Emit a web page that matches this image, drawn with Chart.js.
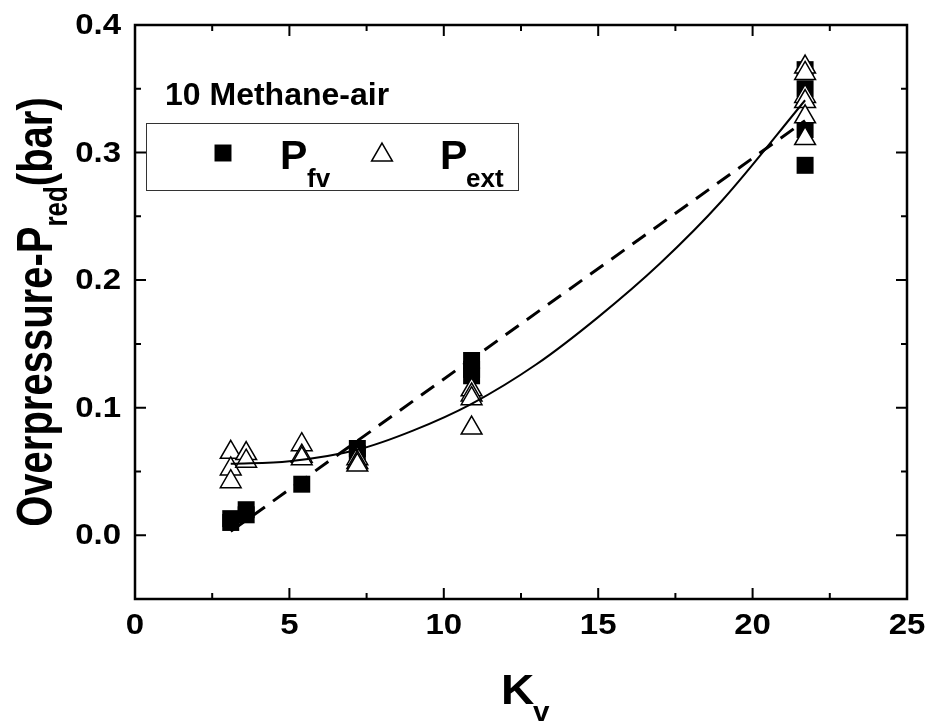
<!DOCTYPE html>
<html>
<head>
<meta charset="utf-8">
<script src="https://cdn.jsdelivr.net/npm/chart.js@4/dist/chart.umd.min.js"></script>
<style>
  html, body { margin: 0; padding: 0; background: #fff; }
  #wrap { width: 926px; height: 722px; }
</style>
</head>
<body>
<div id="wrap"><canvas id="c" width="926" height="722"></canvas></div>
<script>
// Vent coefficient K_v for each measured point
const fvKv  = [3.1, 3.1, 3.6, 3.6, 5.4, 7.2, 7.2, 10.9, 10.9, 10.9, 21.7, 21.7, 21.7, 21.7];
// Reduced overpressure from flame venting, P_fv (bar)
const fvP   = [0.013, 0.010, 0.020, 0.016, 0.040, 0.068, 0.064, 0.137, 0.130, 0.125, 0.365, 0.350, 0.318, 0.290];

const extKv = [3.1, 3.1, 3.1, 3.6, 3.6, 5.4, 5.4, 5.4, 7.2, 7.2, 7.2, 10.9, 10.9, 10.9, 10.9, 21.7, 21.7, 21.7, 21.7, 21.7, 21.7];
// External explosion overpressure, P_ext (bar)
const extP  = [0.065, 0.052, 0.042, 0.064, 0.058, 0.071, 0.062, 0.060, 0.060, 0.057, 0.055, 0.114, 0.110, 0.107, 0.084, 0.367, 0.362, 0.344, 0.340, 0.328, 0.311];

// Linear trend of P_fv (dashed)
const fvTrendKv = [3.1, 21.7];
const fvTrendP  = [0.003, 0.325];

// Curved trend of P_ext (solid)
const extTrendKv = [3.1, 5.0, 7.2, 9.0, 10.9, 13.0, 15.0, 17.0, 19.0, 21.7];
const extTrendP  = [0.056, 0.058, 0.067, 0.082, 0.103, 0.134, 0.171, 0.213, 0.262, 0.341];

// Axis tick labels
const xTicks = [0, 5, 10, 15, 20, 25];
const yTicks = [0.0, 0.1, 0.2, 0.3, 0.4];

const pts = (xs, ys) => xs.map((x, i) => ({ x: x, y: ys[i] }));

const FONT = '"Liberation Sans", Arial, Helvetica, sans-serif';

// Draw text widened horizontally by sx, anchored at (x, y)
function wideText(ctx, text, x, y, font, sx, align, baseline) {
  ctx.save();
  ctx.translate(x, y);
  ctx.scale(sx, 1);
  ctx.font = font;
  ctx.textAlign = align || 'left';
  ctx.textBaseline = baseline || 'alphabetic';
  ctx.fillText(text, 0, 0);
  ctx.restore();
}

// Box frame with inward major/minor ticks on all four sides
const framePlugin = {
  id: 'frame',
  beforeDatasetsDraw(chart) {
    const { ctx, chartArea: a, scales } = chart;
    const xs = scales.x, ys = scales.y;
    ctx.save();
    ctx.strokeStyle = '#000';
    ctx.lineWidth = 2.5;
    ctx.strokeRect(a.left, a.top, a.right - a.left, a.bottom - a.top);
    ctx.lineWidth = 2;
    const major = 11, minor = 6;
    ctx.beginPath();
    for (let k = 0; k <= 10; k++) {
      const px = xs.getPixelForValue(k * 2.5);
      const len = (k % 2 === 0) ? major : minor;
      ctx.moveTo(px, a.bottom); ctx.lineTo(px, a.bottom - len);
      ctx.moveTo(px, a.top);    ctx.lineTo(px, a.top + len);
    }
    for (let k = -1; k <= 8; k++) {
      const py = ys.getPixelForValue(k * 0.05);
      const len = (k % 2 === 0) ? major : minor;
      ctx.moveTo(a.left, py);  ctx.lineTo(a.left + len, py);
      ctx.moveTo(a.right, py); ctx.lineTo(a.right - len, py);
    }
    ctx.stroke();
    ctx.restore();
  }
};

// Tick labels, annotation, legend box and axis titles with subscripts
const textPlugin = {
  id: 'texts',
  afterDraw(chart) {
    const { ctx, chartArea: a, scales } = chart;
    ctx.save();
    ctx.fillStyle = '#000';

    // tick labels
    const tickFont = 'bold 30px ' + FONT;
    xTicks.forEach(v => {
      wideText(ctx, String(v), scales.x.getPixelForValue(v), a.bottom + 27, tickFont, 1.1, 'center', 'middle');
    });
    yTicks.forEach(v => {
      wideText(ctx, v.toFixed(1), a.left - 14, scales.y.getPixelForValue(v) + 1, tickFont, 1.1, 'right', 'middle');
    });

    // annotation
    wideText(ctx, '10 Methane-air', a.left + 30, a.top + 80, 'bold 32px ' + FONT, 1.0);

    // legend box
    const bx = a.left + 11, by = a.top + 98, bw = 372, bh = 67;
    ctx.fillStyle = '#fff';
    ctx.fillRect(bx, by, bw, bh);
    ctx.strokeStyle = '#333';
    ctx.lineWidth = 1;
    ctx.strokeRect(bx + 0.5, by + 0.5, bw, bh);
    const cy = by + 30;
    ctx.fillStyle = '#000';
    Chart.helpers.drawPoint(ctx, { pointStyle: 'rect', radius: 12, borderWidth: 0 }, bx + 77, cy);
    ctx.fillStyle = '#fff';
    ctx.strokeStyle = '#000';
    ctx.lineWidth = 1.5;
    Chart.helpers.drawPoint(ctx, { pointStyle: 'triangle', radius: 12, borderWidth: 1.5 }, bx + 236, cy + 2);
    ctx.fillStyle = '#000';
    wideText(ctx, 'P', bx + 134, by + 46, 'bold 41px ' + FONT, 1.0);
    wideText(ctx, 'P', bx + 294, by + 46, 'bold 41px ' + FONT, 1.0);
    wideText(ctx, 'fv', bx + 161, by + 64, 'bold 26px ' + FONT, 1.0);
    wideText(ctx, 'ext', bx + 320, by + 64, 'bold 26px ' + FONT, 1.0);

    // x axis title
    wideText(ctx, 'K', 501, 704, 'bold 42px ' + FONT, 1.1);
    wideText(ctx, 'v', 533, 721, 'bold 27px ' + FONT, 1.1);

    // y axis title, rotated and thickened across its baseline
    ctx.save();
    ctx.translate(52, 312);
    ctx.scale(1.25, 1);
    ctx.rotate(-Math.PI / 2);
    ctx.textAlign = 'left';
    ctx.textBaseline = 'alphabetic';
    const main = 'Overpressure-P', sub = 'red', tail = '(bar)';
    ctx.font = 'bold 40px ' + FONT;
    const wMain = ctx.measureText(main).width;
    const wTail = ctx.measureText(tail).width;
    ctx.font = 'bold 26px ' + FONT;
    const wSub = ctx.measureText(sub).width;
    const x0 = -(wMain + wSub + wTail) / 2;
    ctx.font = 'bold 40px ' + FONT;
    ctx.fillText(main, x0, 0);
    ctx.font = 'bold 26px ' + FONT;
    ctx.fillText(sub, x0 + wMain, 12);
    ctx.font = 'bold 40px ' + FONT;
    ctx.fillText(tail, x0 + wMain + wSub, 0);
    ctx.restore();

    ctx.restore();
  }
};

new Chart(document.getElementById('c'), {
  type: 'scatter',
  data: {
    datasets: [
      {
        label: 'P_fv trend',
        type: 'line',
        data: pts(fvTrendKv, fvTrendP),
        borderColor: '#000',
        borderWidth: 3,
        borderDash: [16, 10],
        pointRadius: 0,
        fill: false,
        order: 0
      },
      {
        label: 'P_ext trend',
        type: 'line',
        data: pts(extTrendKv, extTrendP),
        borderColor: '#000',
        borderWidth: 2,
        cubicInterpolationMode: 'monotone',
        pointRadius: 0,
        fill: false,
        order: 0
      },
      {
        label: 'P_ext',
        data: pts(extKv, extP),
        pointStyle: 'triangle',
        pointRadius: 12,
        pointBackgroundColor: '#fff',
        pointBorderColor: '#000',
        pointBorderWidth: 1.5,
        order: 1
      },
      {
        label: 'P_fv',
        data: pts(fvKv, fvP),
        pointStyle: 'rect',
        pointRadius: 12,
        pointBackgroundColor: '#000',
        pointBorderColor: '#000',
        pointBorderWidth: 0,
        order: 2
      }
    ]
  },
  options: {
    responsive: false,
    animation: false,
    events: [],
    layout: { padding: { top: 25, right: 19, left: 0, bottom: 0 } },
    plugins: { legend: { display: false }, tooltip: { enabled: false }, title: { display: false } },
    scales: {
      x: {
        type: 'linear',
        min: 0, max: 25,
        grid: { display: false },
        border: { display: false },
        afterBuildTicks: s => { s.ticks = xTicks.map(v => ({ value: v })); },
        afterFit: s => { s.height = 123; },
        ticks: { display: false }
      },
      y: {
        type: 'linear',
        min: -0.05, max: 0.4,
        grid: { display: false },
        border: { display: false },
        afterBuildTicks: s => { s.ticks = yTicks.map(v => ({ value: v })); },
        afterFit: s => { s.width = 135; },
        ticks: { display: false }
      }
    }
  },
  plugins: [framePlugin, textPlugin]
});
</script>
</body>
</html>
